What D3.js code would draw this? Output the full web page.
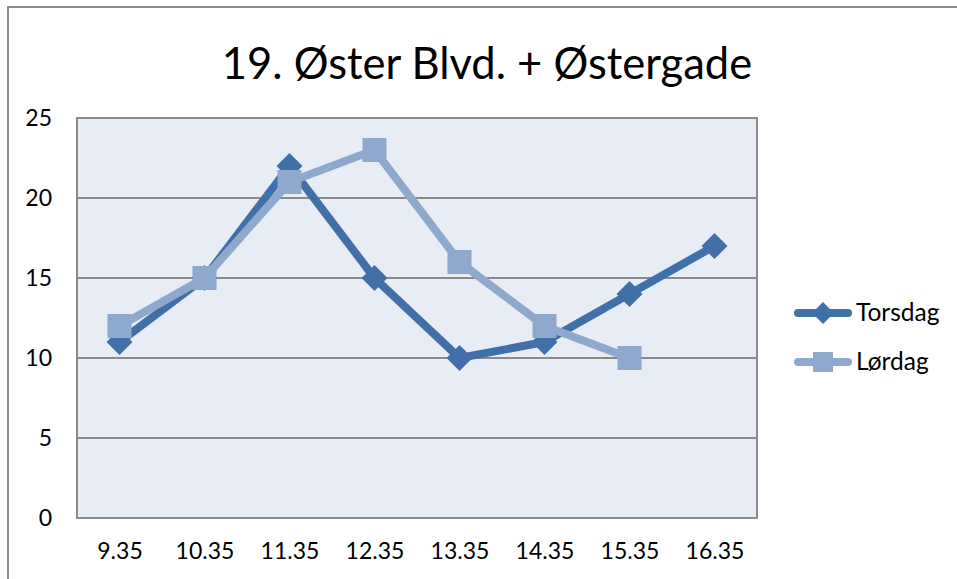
<!DOCTYPE html>
<html>
<head>
<meta charset="utf-8">
<script src="https://cdn.jsdelivr.net/npm/d3@7"></script>
<style>
  body { margin: 0; background: #fff; }
  text { font-family: Lato, "Open Sans", sans-serif; fill: #000; }
</style>
</head>
<body>
<svg id="chart" width="957" height="579"></svg>
<script>
const categories = ["9.35", "10.35", "11.35", "12.35", "13.35", "14.35", "15.35", "16.35"];
const torsdag = [11, 15, 22, 15, 10, 11, 14, 17];
const lordag = [12, 15, 21, 23, 16, 12, 10, null];
const yTicks = [0, 5, 10, 15, 20, 25];
const seriesNames = ["Torsdag", "Lørdag"];

const svg = d3.select("#chart");
const plot = { left: 77, right: 757, top: 118, bottom: 518 };

// outer chart frame (runs off the right and bottom edges)
svg.append("rect")
  .attr("x", 8).attr("y", 7)
  .attr("width", 1000).attr("height", 700)
  .attr("fill", "none")
  .attr("stroke", "#8c8c8c")
  .attr("stroke-width", 2);

const x = d3.scalePoint().domain(categories).range([plot.left, plot.right]).padding(0.5);
const y = d3.scaleLinear().domain([0, 25]).range([plot.bottom, plot.top]);

svg.append("rect")
  .attr("x", plot.left).attr("y", plot.top)
  .attr("width", plot.right - plot.left).attr("height", plot.bottom - plot.top)
  .attr("fill", "#e8ecf4")
  .attr("stroke", "#8c8c8c")
  .attr("stroke-width", 2);

// gridlines
svg.append("g")
  .selectAll("line")
  .data(yTicks.filter(d => d > 0 && d < 25))
  .join("line")
  .attr("x1", plot.left).attr("x2", plot.right)
  .attr("y1", d => y(d)).attr("y2", d => y(d))
  .attr("stroke", "#8a8a8a")
  .attr("stroke-width", 2);

// y axis labels
const yAxis = svg.append("g")
  .attr("transform", `translate(${plot.left},0)`)
  .call(d3.axisLeft(y).tickValues(yTicks).tickSize(0).tickPadding(25));
yAxis.select(".domain").remove();
yAxis.selectAll("text").style("font-size", "23px").attr("font-family", null);

// x axis labels
const xAxis = svg.append("g")
  .attr("transform", `translate(0,${plot.bottom})`)
  .call(d3.axisBottom(x).tickSize(0).tickPadding(25));
xAxis.select(".domain").remove();
xAxis.selectAll("text").style("font-size", "23px").attr("font-family", null);

svg.append("text")
  .attr("x", 487).attr("y", 79)
  .attr("text-anchor", "middle")
  .style("font-size", "43.5px")
  .text("19. Øster Blvd. + Østergade");

const series = [
  { name: seriesNames[0], values: torsdag, color: "#4170a8", marker: "diamond" },
  { name: seriesNames[1], values: lordag, color: "#8fa8ce", marker: "square" }
];

const line = d3.line()
  .defined(d => d.v != null)
  .x(d => x(d.c))
  .y(d => y(d.v));

function marker(g, type, color) {
  if (type === "diamond") {
    g.append("path").attr("d", "M0,-13L13,0L0,13L-13,0Z").attr("fill", color);
  } else {
    g.append("rect").attr("x", -12).attr("y", -12).attr("width", 24).attr("height", 24).attr("fill", color);
  }
}

series.forEach(s => {
  const pts = categories.map((c, i) => ({ c, v: s.values[i] }));
  svg.append("path")
    .datum(pts)
    .attr("d", line)
    .attr("fill", "none")
    .attr("stroke", s.color)
    .attr("stroke-width", 8)
    .attr("stroke-linejoin", "round");
  pts.filter(d => d.v != null).forEach(d => {
    const g = svg.append("g").attr("transform", `translate(${x(d.c)},${y(d.v)})`);
    marker(g, s.marker, s.color);
  });
});

// legend
const legend = svg.append("g");
series.forEach((s, i) => {
  const ly = 313 + i * 49;
  const g = legend.append("g").attr("transform", `translate(0,${ly})`);
  g.append("line")
    .attr("x1", 798).attr("x2", 848)
    .attr("stroke", s.color).attr("stroke-width", 8).attr("stroke-linecap", "round");
  const m = g.append("g").attr("transform", "translate(823,0)");
  if (s.marker === "diamond") {
    m.append("path").attr("d", "M0,-11L11,0L0,11L-11,0Z").attr("fill", s.color);
  } else {
    m.append("rect").attr("x", -10).attr("y", -10).attr("width", 20).attr("height", 20).attr("fill", s.color);
  }
  g.append("text")
    .attr("x", 856).attr("y", 8)
    .style("font-size", "24.5px")
    .text(s.name);
});
</script>
</body>
</html>
